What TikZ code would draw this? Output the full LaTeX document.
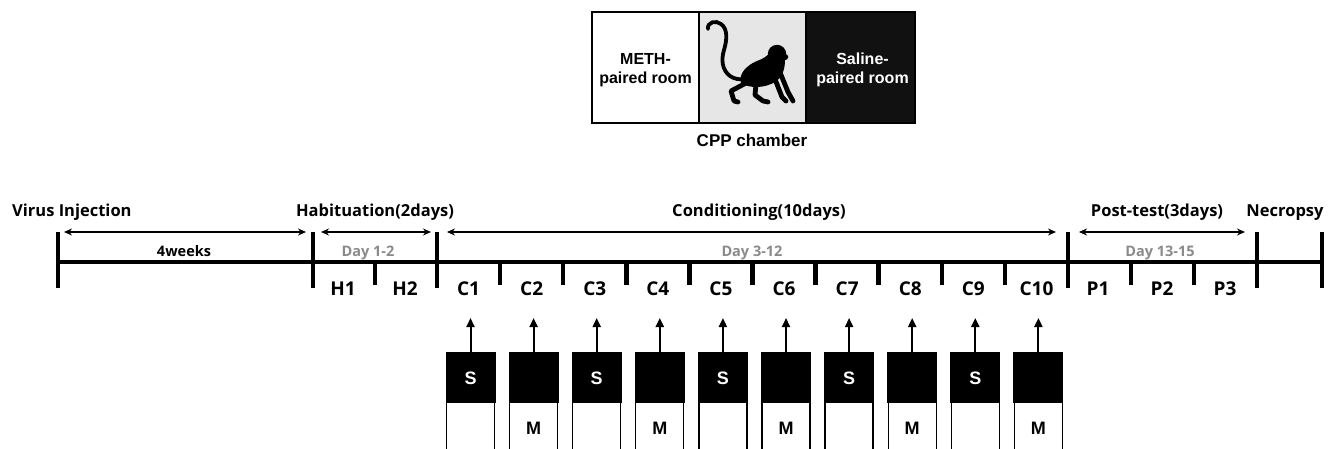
\documentclass[tikz,border=0pt]{standalone}
\usepackage{fontspec}
\newfontfamily\tlfont{Open Sans}
\newfontfamily\arfont{Liberation Sans}
\usetikzlibrary{arrows.meta}
\definecolor{daygray}{HTML}{8A8A8A}
\definecolor{midfill}{HTML}{E6E6E6}
\definecolor{salfill}{HTML}{111111}
\begin{document}
\begin{tikzpicture}[x=1pt,y=-1pt,
  panel/.style={draw=black, line width=1.5pt, minimum height=111pt, inner sep=0pt},
  roomtxt/.style={align=center, inner sep=0pt, font=\arfont\bfseries\fontsize{16}{18.5}\selectfont},
  head/.style={font=\tlfont\bfseries\fontsize{16.5}{20}\selectfont, inner sep=0pt, anchor=base},
  daylab/.style={font=\tlfont\bfseries\fontsize{14.5}{16}\selectfont, inner sep=0pt, anchor=base},
  seglab/.style={font=\tlfont\bfseries\fontsize{19}{21}\selectfont, inner sep=0pt, anchor=base},
  span/.style={{Stealth[length=8pt,width=7pt]}-{Stealth[length=8pt,width=7pt]}, line width=1.8pt},
  axis/.style={line width=4.5pt},
  bigtick/.style={line width=4.5pt},
  smalltick/.style={line width=4.5pt},
  blackbox/.style={fill=black, draw=black, line width=1pt, minimum width=49pt, minimum height=50pt, inner sep=0pt},
  whitebox/.style={fill=white, draw=black, line width=1.3pt, minimum width=48pt, minimum height=62pt, inner sep=0pt},
  druglab/.style={font=\arfont\bfseries\fontsize{18}{20}\selectfont, inner sep=0pt},
  syrarrow/.style={-{Triangle[length=9pt,width=8pt]}, line width=2pt},
  limb/.style={line width=4.8pt, line cap=round, line join=round}
]
\useasboundingbox (0,0) rectangle (1333,449);
\clip (0,0) rectangle (1333,449);

% ---------- CPP chamber ----------
\node[panel, fill=white, minimum width=107pt] (meth) at (645.5,67.5) {};
\node[panel, fill=midfill, minimum width=107pt] (mid) at (752.5,67.5) {};
\node[panel, fill=salfill, minimum width=109pt] (sal) at (860.5,67.5) {};
\node[roomtxt] (methtxt) at (645.5,70) {METH-\\paired room};
\node[roomtxt, text=white] (saltxt) at (862.5,70) {Saline-\\paired room};
\node[font=\arfont\bfseries\fontsize{17}{20}\selectfont, inner sep=0pt, anchor=base] (cpp) at (752,147) {CPP chamber};

% monkey silhouette
\draw[line width=3.8pt, line cap=round]
  (708,29) .. controls (707,22) and (716,20) .. (721,24)
  .. controls (728,29) and (727,40) .. (724,50)
  .. controls (721,60) and (722,70) .. (730,76)
  .. controls (734,79) and (740,80) .. (746,79);
\fill (741,83) .. controls (738,74) and (747,65) .. (757,61)
  .. controls (763,59) and (767,56) .. (771,52)
  -- (785,60) .. controls (785,68) and (783,77) .. (775,82)
  .. controls (765,88) and (750,89) .. (741,83) -- cycle;
\fill (777,54) circle (9.2);
\fill (784.5,57) ellipse (3.8 and 3.2);
\draw[limb] (748,82) -- (731,91) -- (734,101) -- (738,102);
\draw[limb] (756,84) -- (755,95) -- (763,101) -- (768,102);
\draw[limb] (773,74) -- (782,97) -- (786,101);
\draw[limb] (779,70) -- (788,92) -- (793,101);

% ---------- timeline ----------
\coordinate (t0) at (58,262);
\coordinate (tend) at (1322,262);
\draw[axis] (t0) -- (tend);
\foreach \x in {58,313,437,1068,1257,1322}
  \draw[bigtick] (\x,232) -- (\x,288);
\draw[smalltick] (375,262) -- (375,285);
\foreach \i in {1,...,9}{
  \pgfmathsetmacro\xx{437+63.1*\i}
  \draw[smalltick] (\xx,262) -- (\xx,285);
}
\draw[smalltick] (1131,262) -- (1131,285);
\draw[smalltick] (1194,262) -- (1194,285);

% phase headings
\node[head, anchor=base west] (virus) at (12,217) {Virus Injection};
\node[head] (habit) at (375,217) {Habituation(2days)};
\node[head] (cond) at (759,217) {Conditioning(10days)};
\node[head] (post) at (1157,217) {Post-test(3days)};
\node[head] (necro) at (1285,217) {Necropsy};

% spans
\coordinate (v1) at (64,232);  \coordinate (v2) at (306,232);
\coordinate (h1) at (321,232); \coordinate (h2) at (431,232);
\coordinate (c1) at (447,232); \coordinate (c2) at (1056,232);
\coordinate (p1) at (1079,232); \coordinate (p2) at (1245,232);
\draw[span] (v1) -- (v2);
\draw[span] (h1) -- (h2);
\draw[span] (c1) -- (c2);
\draw[span] (p1) -- (p2);

\node[daylab] (weeks) at (184,256) {4weeks};
\node[daylab, text=daygray] (d12) at (368,256) {Day 1-2};
\node[daylab, text=daygray] (d312) at (752,256) {Day 3-12};
\node[daylab, text=daygray] (d1315) at (1160,256) {Day 13-15};

% session labels
\node[seglab] (lh1) at (343,295.5) {H1};
\node[seglab] (lh2) at (405,295.5) {H2};
\foreach \k in {1,...,10}{
  \pgfmathsetmacro\cx{437+63.1*(\k-0.5)}
  \node[seglab] (lc\k) at (\cx,295.5) {C\k};
}
\node[seglab] (lp1) at (1098,295.5) {P1};
\node[seglab] (lp2) at (1162,295.5) {P2};
\node[seglab] (lp3) at (1225,295.5) {P3};

% syringe-style pairing boxes under each conditioning day
\foreach \k in {1,...,10}{
  \pgfmathsetmacro\sx{470.5+63.1*(\k-1)}
  \node[whitebox] (wb\k) at (\sx,433) {};
  \node[blackbox] (sb\k) at (\sx,377) {};
  \coordinate (ar\k) at (\sx,318);
  \draw[syrarrow] (sb\k.north) -- (ar\k);
  \ifodd\k
    \node[druglab, text=white] (s\k) at (\sx,378.5) {S};
  \else
    \node[druglab] (m\k) at (\sx,428) {M};
  \fi
}
\end{tikzpicture}
\end{document}
